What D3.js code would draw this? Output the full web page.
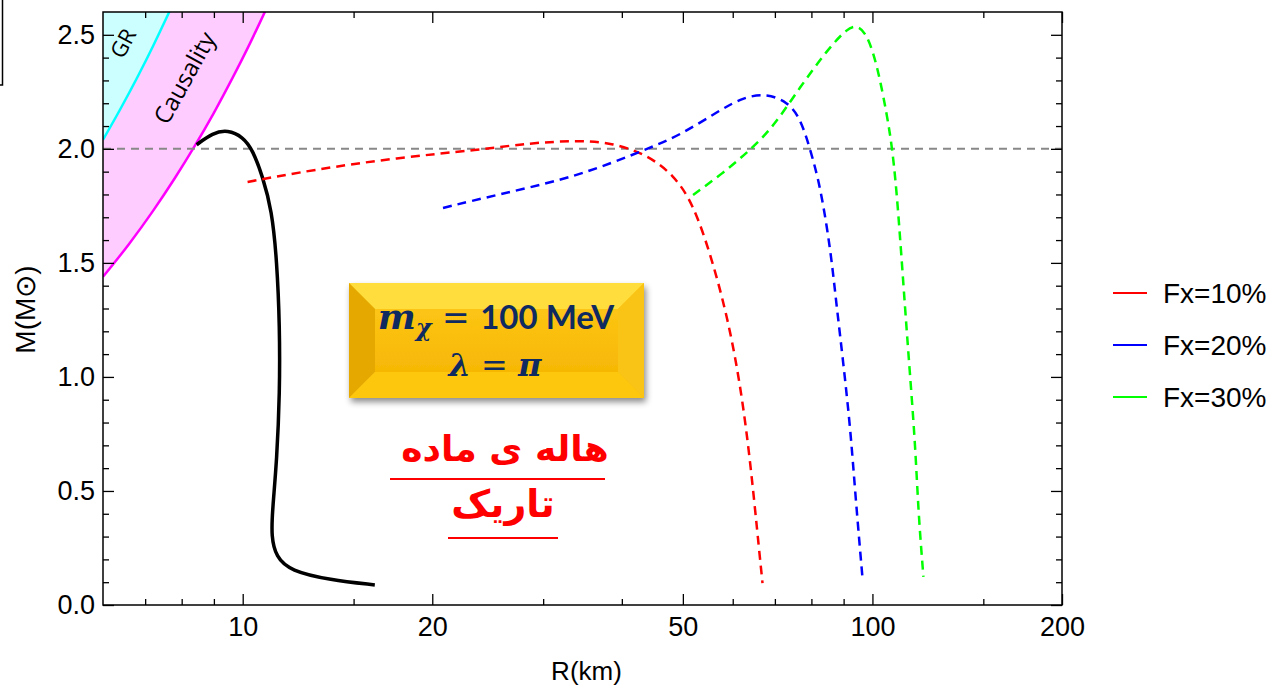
<!DOCTYPE html>
<html>
<head>
<meta charset="utf-8">
<script src="https://cdn.jsdelivr.net/npm/d3@7"></script>
<style>
  body { margin: 0; background: #fff; }
  svg { display: block; }
  .tick text { font-family: "Liberation Sans", Arial, sans-serif; }
</style>
</head>
<body>
<div id="chart"></div>
<script>
// mass-radius data (R in km, M in solar masses)
var blackCurve = [[8.45,2.018],[8.96,2.07],[9.47,2.083],[10.0,2.053],[10.37,1.996],[10.76,1.877],
  [11.12,1.732],[11.33,1.513],[11.45,1.219],[11.45,0.93],[11.33,0.636],[11.15,0.417],[11.1,0.3],
  [11.3,0.21],[11.9,0.15],[13.75,0.11],[16.21,0.088]];
var redCurve = [[10.18,1.855],[12.92,1.908],[17.57,1.961],[23.81,1.996],[28.6,2.026],[34.3,2.037],
  [38.7,2.026],[43.9,1.974],[48.3,1.886],[51.9,1.763],[55.9,1.5],[59.5,1.206],[62.1,0.912],
  [64.0,0.623],[65.6,0.329],[66.9,0.096]];
var blueCurve = [[20.8,1.741],[25.3,1.798],[32.3,1.864],[38.7,1.939],[43.9,2.0],[49.5,2.06],
  [56.7,2.162],[62.4,2.228],[68.1,2.242],[73.3,2.206],[76.8,2.136],[79.7,1.996],
  [82.7,1.833],[85.8,1.557],[87.4,1.351],[89.9,1.061],[92.3,0.768],[94.0,0.474],[96.4,0.123]];
var greenCurve = [[51.9,1.798],[58.0,1.895],[64.0,1.996],[69.6,2.096],[76.8,2.272],[84.8,2.434],
  [91.3,2.53],[94.7,2.542],[98.2,2.5],[101.9,2.36],[105.6,2.14],[107.6,1.996],[109.6,1.776],
  [112.8,1.281],[114.9,0.987],[117.0,0.693],[118.3,0.404],[120.5,0.123]];
var grLimit = [[6.0,2.04],[6.4,2.177],[6.8,2.313],[7.2,2.449],[7.65,2.602]];
var causalLimit = [[6.0,1.439],[6.6,1.583],[7.2,1.727],[7.8,1.871],[8.36,2.005],[9.0,2.158],
  [9.64,2.312],[10.2,2.446],[10.85,2.602]];
var refMass = 2.0;

var seriesNames = ["Fx=10%", "Fx=20%", "Fx=30%"];
var seriesColors = ["#ff0000", "#0000ff", "#00ff00"];

var xMajor = [10, 20, 50, 100, 200];
var xMinor = [7, 8, 9, 15, 30, 40, 60, 70, 80, 90, 150];
var yMajor = [0, 0.5, 1.0, 1.5, 2.0, 2.5];
var yMinor = [0.1, 0.2, 0.3, 0.4, 0.6, 0.7, 0.8, 0.9, 1.1, 1.2, 1.3, 1.4, 1.6, 1.7, 1.8, 1.9, 2.1, 2.2, 2.3, 2.4];

var W = 1273, H = 686;
var pLeft = 103, pRight = 1062, pTop = 12, pBottom = 605;

var x = d3.scaleLog().domain([6, 200]).range([pLeft, pRight]);
var y = d3.scaleLinear().domain([0, 2.6]).range([pBottom, pTop]);

var svg = d3.select("#chart").append("svg").attr("width", W).attr("height", H);

var defs = svg.append("defs");
defs.append("clipPath").attr("id", "plotclip")
  .append("rect").attr("x", pLeft).attr("y", pTop).attr("width", pRight - pLeft).attr("height", pBottom - pTop);
var shadow = defs.append("filter").attr("id", "shadow").attr("x", "-10%").attr("y", "-10%").attr("width", "130%").attr("height", "140%");
shadow.append("feDropShadow").attr("dx", 2).attr("dy", 4).attr("stdDeviation", 3).attr("flood-color", "#000").attr("flood-opacity", 0.45);
var faceGrad = defs.append("linearGradient").attr("id", "face").attr("x1", 0).attr("y1", 0).attr("x2", 0).attr("y2", 1);
faceGrad.append("stop").attr("offset", "0%").attr("stop-color", "#fcc514");
faceGrad.append("stop").attr("offset", "100%").attr("stop-color", "#f7b705");

// stray corner of a box at the very top left
svg.append("path").attr("d", "M2.5,0 V85 H0").attr("fill", "none").attr("stroke", "#000").attr("stroke-width", 1.5);

var plot = svg.append("g").attr("clip-path", "url(#plotclip)");

var lineGen = d3.line().x(function(d) { return x(d[0]); }).y(function(d) { return y(d[1]); });
var smooth = d3.line().x(function(d) { return x(d[0]); }).y(function(d) { return y(d[1]); }).curve(d3.curveMonotoneX);
var soft = d3.line().x(function(d) { return x(d[0]); }).y(function(d) { return y(d[1]); }).curve(d3.curveBasis);

// shaded forbidden regions
var grArea = [[6, 2.6]].concat(grLimit);
plot.append("path").attr("d", smooth(grLimit) + "L" + x(6) + "," + y(2.6) + "Z").attr("fill", "#ccffff");
plot.append("path").attr("d", smooth(causalLimit) + lineGen(grLimit.slice().reverse()).replace("M", "L") + "Z")
  .attr("fill", "#ffccff");
plot.append("path").attr("d", smooth(grLimit)).attr("fill", "none").attr("stroke", "#00ffff").attr("stroke-width", 2.5);
plot.append("path").attr("d", smooth(causalLimit)).attr("fill", "none").attr("stroke", "#ff00ff").attr("stroke-width", 2.5);

plot.append("text").attr("transform", "translate(130,47) rotate(-62)")
  .attr("text-anchor", "middle").attr("font-family", "Open Sans, sans-serif").attr("font-size", 22).text("GR");
plot.append("text").attr("transform", "translate(192,82) rotate(-61)")
  .attr("text-anchor", "middle").attr("font-family", "Open Sans, sans-serif").attr("font-size", 24).text("Causality");

// 2 solar mass reference
plot.append("line").attr("x1", pLeft).attr("x2", pRight).attr("y1", y(refMass)).attr("y2", y(refMass))
  .attr("stroke", "#888").attr("stroke-width", 2).attr("stroke-dasharray", "8,6");

// curves
plot.append("path").attr("d", soft(blackCurve)).attr("fill", "none").attr("stroke", "#000").attr("stroke-width", 3.5);
[redCurve, blueCurve, greenCurve].forEach(function(c, i) {
  plot.append("path").attr("d", soft(c)).attr("fill", "none")
    .attr("stroke", seriesColors[i]).attr("stroke-width", 2.5).attr("stroke-dasharray", "9,6");
});

// frame and ticks
svg.append("rect").attr("x", pLeft).attr("y", pTop).attr("width", pRight - pLeft).attr("height", pBottom - pTop)
  .attr("fill", "none").attr("stroke", "#000").attr("stroke-width", 1.5);

function axisStyle(g) {
  g.select(".domain").remove();
  g.selectAll(".tick line").attr("stroke", "#000").attr("stroke-width", 1.3);
  g.selectAll(".tick text").attr("font-size", 27).attr("fill", "#000");
}
svg.append("g").attr("transform", "translate(0," + pBottom + ")")
  .call(d3.axisBottom(x).tickValues(xMajor).tickSize(-11).tickPadding(12).tickFormat(d3.format("d"))).call(axisStyle);
svg.append("g").attr("transform", "translate(0," + pBottom + ")")
  .call(d3.axisBottom(x).tickValues(xMinor).tickSize(-6).tickFormat("")).call(axisStyle);
svg.append("g").attr("transform", "translate(0," + pTop + ")")
  .call(d3.axisTop(x).tickValues(xMajor).tickSize(-11).tickFormat("")).call(axisStyle);
svg.append("g").attr("transform", "translate(0," + pTop + ")")
  .call(d3.axisTop(x).tickValues(xMinor).tickSize(-6).tickFormat("")).call(axisStyle);
svg.append("g").attr("transform", "translate(" + pLeft + ",0)")
  .call(d3.axisLeft(y).tickValues(yMajor).tickSize(-11).tickPadding(8).tickFormat(d3.format(".1f"))).call(axisStyle);
svg.append("g").attr("transform", "translate(" + pLeft + ",0)")
  .call(d3.axisLeft(y).tickValues(yMinor).tickSize(-6).tickFormat("")).call(axisStyle);
svg.append("g").attr("transform", "translate(" + pRight + ",0)")
  .call(d3.axisRight(y).tickValues(yMajor).tickSize(-11).tickFormat("")).call(axisStyle);
svg.append("g").attr("transform", "translate(" + pRight + ",0)")
  .call(d3.axisRight(y).tickValues(yMinor).tickSize(-6).tickFormat("")).call(axisStyle);

// axis titles
svg.append("text").attr("x", (pLeft + pRight) / 2 + 4).attr("y", 680).attr("text-anchor", "middle")
  .attr("font-family", "Liberation Sans, Arial, sans-serif").attr("font-size", 26).text("R(km)");
svg.append("text").attr("transform", "translate(35," + ((pTop + pBottom) / 2 + 1) + ") rotate(-90)")
  .attr("text-anchor", "middle").attr("font-family", "Liberation Sans, Arial, sans-serif").attr("font-size", 28).text("M(M\u2299)");

// legend
var legend = svg.append("g").attr("transform", "translate(1113,293)");
seriesNames.forEach(function(name, i) {
  var row = legend.append("g").attr("transform", "translate(0," + (i * 52) + ")");
  row.append("line").attr("x1", 0).attr("x2", 34).attr("y1", 0).attr("y2", 0)
    .attr("stroke", seriesColors[i]).attr("stroke-width", 2);
  row.append("text").attr("x", 50).attr("y", 10).attr("font-family", "Liberation Sans, Arial, sans-serif")
    .attr("font-size", 28).text(name);
});

// bevelled label box
var bx = 349, by = 283, bw = 295, bh = 115, bev = 26;
var box = svg.append("g").attr("filter", "url(#shadow)");
box.append("rect").attr("x", bx).attr("y", by).attr("width", bw).attr("height", bh).attr("fill", "url(#face)");
function poly(pts, fill) {
  box.append("polygon").attr("points", pts.map(function(p) { return p.join(","); }).join(" ")).attr("fill", fill);
}
poly([[bx, by], [bx + bw, by], [bx + bw - bev, by + bev], [bx + bev, by + bev]], "#fedd3c");
poly([[bx, by], [bx + bev, by + bev], [bx + bev, by + bh - bev], [bx, by + bh]], "#e4a805");
poly([[bx + bw, by], [bx + bw, by + bh], [bx + bw - bev, by + bh - bev], [bx + bw - bev, by + bev]], "#f9c416");
poly([[bx, by + bh], [bx + bev, by + bh - bev], [bx + bw - bev, by + bh - bev], [bx + bw, by + bh]], "#fcc70e");
box.append("rect").attr("x", bx + bev).attr("y", by + bev).attr("width", bw - 2 * bev).attr("height", bh - 2 * bev).attr("fill", "url(#face)");

var navy = "#0e2a60";
var t1 = svg.append("text").attr("x", 496).attr("y", 329).attr("text-anchor", "middle").attr("fill", navy).attr("font-size", 33);
t1.append("tspan").attr("font-family", "DejaVu Serif, serif").attr("font-style", "italic").attr("font-weight", "bold")
  .attr("font-size", 36).text("m");
t1.append("tspan").attr("font-family", "DejaVu Serif, serif").attr("font-style", "italic").attr("font-weight", "bold")
  .attr("font-size", 24).attr("dy", 7).text("\u03c7");
t1.append("tspan").attr("font-family", "DejaVu Serif, serif").attr("dy", -7).text(" = ");
t1.append("tspan").attr("font-family", "Lato, Open Sans, sans-serif").attr("font-weight", "bold").text("100 MeV");
var t2 = svg.append("text").attr("x", 495).attr("y", 376).attr("text-anchor", "middle").attr("fill", navy).attr("font-size", 32)
  .attr("font-family", "DejaVu Serif, serif");
t2.append("tspan").attr("font-style", "italic").attr("font-weight", "bold").text("\u03bb");
t2.append("tspan").text(" = ");
t2.append("tspan").attr("font-style", "italic").attr("font-weight", "bold").text("\u03c0");

// Persian caption
var fa = svg.append("g").attr("fill", "#ff0000").attr("font-family", "DejaVu Sans, sans-serif").attr("font-weight", "bold");
fa.append("text").attr("x", 505).attr("y", 461).attr("text-anchor", "middle").attr("direction", "rtl")
  .attr("font-size", 36).text("هاله ی ماده");
fa.append("text").attr("x", 503).attr("y", 517).attr("text-anchor", "middle").attr("direction", "rtl")
  .attr("font-size", 38).text("تاریک");
svg.append("line").attr("x1", 390).attr("x2", 605).attr("y1", 479).attr("y2", 479).attr("stroke", "#ff0000").attr("stroke-width", 2);
svg.append("line").attr("x1", 448).attr("x2", 558).attr("y1", 538).attr("y2", 538).attr("stroke", "#ff0000").attr("stroke-width", 2);
</script>
</body>
</html>
